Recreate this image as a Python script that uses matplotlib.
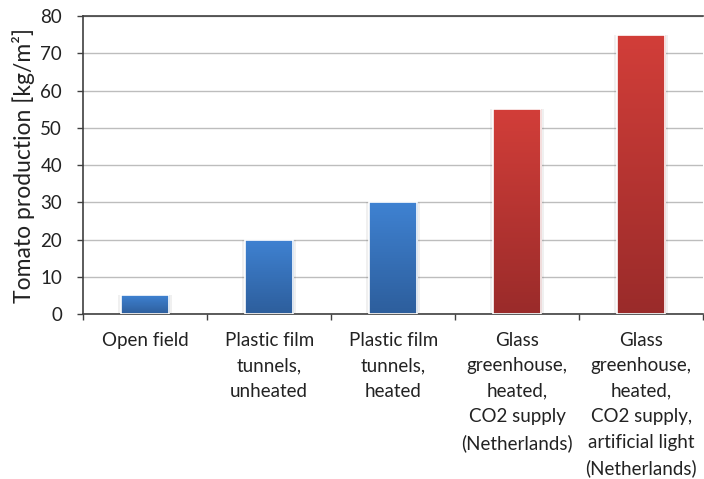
import numpy as np
import matplotlib.pyplot as plt
from matplotlib.colors import LinearSegmentedColormap

plt.rcParams['font.family'] = ['Lato', 'DejaVu Sans']

# data
categories = [
    'Open field',
    'Plastic film\ntunnels,\nunheated',
    'Plastic film\ntunnels,\nheated',
    'Glass\ngreenhouse,\nheated,\nCO2 supply\n(Netherlands)',
    'Glass\ngreenhouse,\nheated,\nCO2 supply,\nartificial light\n(Netherlands)',
]
production = [5, 20, 30, 55, 75]
heated_glass = [False, False, False, True, True]
yticks = [0, 10, 20, 30, 40, 50, 60, 70, 80]

blue_cmap = LinearSegmentedColormap.from_list('blue', ['#2D5E9C', '#3F82D2'])
red_cmap = LinearSegmentedColormap.from_list('red', ['#9A2B2A', '#D23E39'])

fig = plt.figure(figsize=(7.04, 4.79), dpi=100)
ax = fig.add_axes([0.118, 0.3445, 0.881, 0.622])

x = np.arange(len(categories))
bars = ax.bar(x, production, width=0.39, color='none', edgecolor='white',
              linewidth=1.2, zorder=3)

grad = np.linspace(0, 1, 256).reshape(-1, 1)
for bar, glass in zip(bars, heated_glass):
    x0, w, h = bar.get_x(), bar.get_width(), bar.get_height()
    cmap = red_cmap if glass else blue_cmap
    # soft shadow behind the bar
    ax.bar(bar.get_x() + w / 2, h, width=w * 1.12, color='#000000', alpha=0.06,
           zorder=2, linewidth=0)
    im = ax.imshow(grad, cmap=cmap, origin='lower', aspect='auto',
                   extent=[x0, x0 + w, 0, h], zorder=2.5)
    im.set_clip_path(bar)

ax.set_xlim(-0.5, len(categories) - 0.5)
ax.set_ylim(0, 80)
ax.set_yticks(yticks)
ax.set_yticklabels([str(t) for t in yticks], fontsize=13.5, color='#222222')
ax.set_xticks(np.arange(len(categories) + 1) - 0.5, minor=False)
ax.set_xticklabels([''] * (len(categories) + 1))
ax.set_xticks(x, minor=True)
ax.set_xticklabels(categories, minor=True, fontsize=13.5, color='#222222',
                   linespacing=1.6, va='top')
ax.tick_params(axis='x', which='minor', length=0, pad=13)
ax.tick_params(axis='x', which='major', length=4.5, width=1, color='#404040',
               direction='out')
ax.tick_params(axis='y', length=4, width=1, color='#404040', direction='out',
               pad=11)

ax.set_ylabel('Tomato production [kg/m²]', fontsize=16.5, color='#222222',
              labelpad=4)

ax.grid(axis='y', color='#BDBDBD', linewidth=1, zorder=0)
ax.set_axisbelow(True)
for side in ['left', 'bottom', 'top']:
    ax.spines[side].set_color('#404040')
    ax.spines[side].set_linewidth(1.2)
ax.spines['right'].set_visible(False)

fig.savefig('out.png', dpi=100)
